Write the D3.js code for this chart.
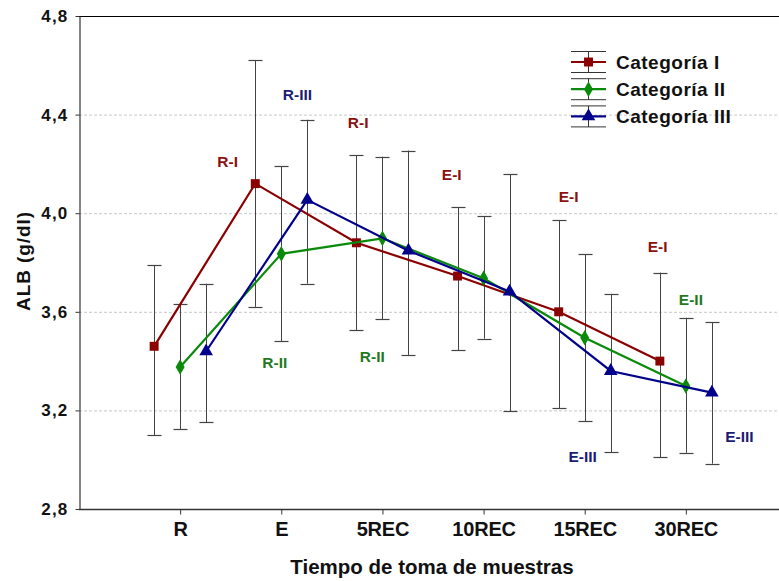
<!DOCTYPE html>
<html>
<head>
<meta charset="utf-8">
<script src="https://cdn.jsdelivr.net/npm/d3@7"></script>
<style>
  html, body { margin: 0; padding: 0; background: #fff; }
  svg text { font-family: "Liberation Sans", Arial, sans-serif; font-weight: bold; }
</style>
</head>
<body>
<div id="chart"></div>
<script>
(function(){
    // Data
    const categories = ["R", "E", "5REC", "10REC", "15REC", "30REC"];
    const seriesNames = ["Categoría I", "Categoría II", "Categoría III"];

    const meanI   = [3.46, 4.12, 3.88, 3.745, 3.60, 3.40];
    const lowerI  = [3.10, 3.62, 3.525, 3.445, 3.208, 3.01];
    const upperI  = [3.79, 4.62, 4.235, 4.025, 3.972, 3.759];

    const meanII  = [3.376, 3.835, 3.898, 3.736, 3.495, 3.299];
    const lowerII = [3.123, 3.48, 3.57, 3.491, 3.156, 3.028];
    const upperII = [3.63, 4.19, 4.229, 3.987, 3.834, 3.576];

    const meanIII  = [3.44, 4.054, 3.848, 3.682, 3.36, 3.272];
    const lowerIII = [3.152, 3.714, 3.425, 3.196, 3.031, 2.984];
    const upperIII = [3.714, 4.379, 4.254, 4.159, 3.673, 3.557];

    const yTickValues = [2.8, 3.2, 3.6, 4.0, 4.4, 4.8];

    // Annotation labels: position in category units and value units
    const annotations = [
        { text: "R-I",   series: 0, at: 0.47, value: 4.21 },
        { text: "R-III", series: 2, at: 1.16, value: 4.48 },
        { text: "R-I",   series: 0, at: 1.76, value: 4.366 },
        { text: "E-I",   series: 0, at: 2.685, value: 4.155 },
        { text: "E-I",   series: 0, at: 3.84, value: 4.067 },
        { text: "E-I",   series: 0, at: 4.72, value: 3.864 },
        { text: "E-II",  series: 1, at: 5.05, value: 3.648 },
        { text: "E-III", series: 2, at: 5.53, value: 3.096 },
        { text: "E-III", series: 2, at: 3.98, value: 3.011 },
        { text: "R-II",  series: 1, at: 0.936, value: 3.393 },
        { text: "R-II",  series: 1, at: 1.90, value: 3.418 }
    ];

    const series = [
        { name: seriesNames[0], mean: meanI, lower: lowerI, upper: upperI },
        { name: seriesNames[1], mean: meanII, lower: lowerII, upper: upperII },
        { name: seriesNames[2], mean: meanIII, lower: lowerIII, upper: upperIII }
    ];

    const colors = ["#8b0000", "#0a8a0a", "#00008b"];
    const labelColors = ["#8b1010", "#1f7a1f", "#1c1c72"];
    const offsets = [-26, 0, 26];
    const symbols = [d3.symbolSquare, d3.symbolDiamond, d3.symbolTriangle];
    const symbolSizes = [80, 70, 80];

    const W = 779, H = 581;
    const margin = { top: 16, left: 79, bottom: 72 };

    const svg = d3.select("#chart")
        .append("svg")
        .attr("width", W)
        .attr("height", H);

    const x = d3.scalePoint()
        .domain(categories)
        .range([margin.left, 787])
        .padding(1);

    const xIdx = d3.scaleLinear()
        .domain([0, categories.length - 1])
        .range([x(categories[0]), x(categories[categories.length - 1])]);

    const y = d3.scaleLinear()
        .domain([2.8, 4.8])
        .range([H - margin.bottom, margin.top]);

    // Grid lines
    svg.selectAll(".grid")
        .data(yTickValues.slice(1, -1))
        .enter()
        .append("line")
        .attr("x1", margin.left)
        .attr("x2", W)
        .attr("y1", d => y(d) + 0.5)
        .attr("y2", d => y(d) + 0.5)
        .attr("stroke", "#c8c8c8")
        .attr("stroke-dasharray", "3,2");

    // Top border
    svg.append("line")
        .attr("x1", margin.left)
        .attr("x2", W)
        .attr("y1", y(4.8) + 0.5)
        .attr("y2", y(4.8) + 0.5)
        .attr("stroke", "#000");

    // Axes
    const xAxis = svg.append("g")
        .attr("transform", `translate(0, ${y(2.8) + 0.5})`)
        .call(d3.axisBottom(x).tickSize(5).tickSizeOuter(0).tickPadding(7));
    xAxis.select(".domain").attr("stroke", "#333").attr("stroke-width", 1.5).attr("d", `M${margin.left},0H${W}`);
    xAxis.selectAll("line").attr("stroke", "#333");
    xAxis.selectAll("text")
        .style("font-size", "20px")
        .style("letter-spacing", "-0.2px")
        .attr("fill", "#111");

    const yAxis = svg.append("g")
        .attr("transform", `translate(${margin.left + 0.5}, 0)`)
        .call(d3.axisLeft(y).tickValues(yTickValues).tickSize(4).tickSizeOuter(0).tickPadding(7)
            .tickFormat(d => d3.format(".1f")(d).replace(".", ",")));
    yAxis.select(".domain").attr("stroke", "#333").attr("stroke-width", 1.2);
    yAxis.selectAll("line").attr("stroke", "#333");
    yAxis.selectAll("text")
        .style("font-size", "17px")
        .style("letter-spacing", "1.2px")
        .attr("fill", "#111");

    // Axis titles
    svg.append("text")
        .attr("x", 432)
        .attr("y", 574)
        .attr("text-anchor", "middle")
        .style("font-size", "20.5px")
        .attr("fill", "#111")
        .text("Tiempo de toma de muestras");

    svg.append("text")
        .attr("transform", `translate(30, 261) rotate(-90)`)
        .attr("text-anchor", "middle")
        .style("font-size", "19px")
        .style("letter-spacing", "0.9px")
        .attr("fill", "#111")
        .text("ALB (g/dl)");

    // Error bars
    series.forEach((s, si) => {
        const g = svg.append("g");
        categories.forEach((c, i) => {
            const cx = Math.round(x(c) + offsets[si]) + 0.5;
            g.append("line")
                .attr("x1", cx).attr("x2", cx)
                .attr("y1", y(s.lower[i])).attr("y2", y(s.upper[i]))
                .attr("stroke", "#444").attr("stroke-width", 1);
            [s.lower[i], s.upper[i]].forEach(v => {
                g.append("line")
                    .attr("x1", cx - 7).attr("x2", cx + 7)
                    .attr("y1", Math.round(y(v)) + 0.5).attr("y2", Math.round(y(v)) + 0.5)
                    .attr("stroke", "#444").attr("stroke-width", 1.2);
            });
        });
    });

    // Lines and markers
    series.forEach((s, si) => {
        const line = d3.line()
            .x((d, i) => x(categories[i]) + offsets[si])
            .y(d => y(d));
        svg.append("path")
            .datum(s.mean)
            .attr("fill", "none")
            .attr("stroke", colors[si])
            .attr("stroke-width", 2.2)
            .attr("d", line);
        svg.selectAll(`.pt${si}`)
            .data(s.mean)
            .enter()
            .append("path")
            .attr("transform", (d, i) => `translate(${x(categories[i]) + offsets[si]}, ${y(d)})`)
            .attr("d", d3.symbol().type(symbols[si]).size(symbolSizes[si]))
            .attr("fill", colors[si]);
    });

    // Annotations
    svg.selectAll(".annot")
        .data(annotations)
        .enter()
        .append("text")
        .attr("x", d => xIdx(d.at))
        .attr("y", d => y(d.value) + 5.5)
        .attr("text-anchor", "middle")
        .style("font-size", "15.5px")
        .attr("fill", d => labelColors[d.series])
        .text(d => d.text);

    // Legend
    const legend = svg.append("g").attr("transform", "translate(571, 62)");
    series.forEach((s, si) => {
        const row = legend.append("g").attr("transform", `translate(0, ${si * 27.2})`);
        row.append("line").attr("x1", 17.5).attr("x2", 17.5).attr("y1", -10.5).attr("y2", 10.5)
            .attr("stroke", "#333");
        [-10.5, 10.5].forEach(v => {
            row.append("line").attr("x1", 0).attr("x2", 35).attr("y1", v).attr("y2", v)
                .attr("stroke", "#333");
        });
        row.append("line").attr("x1", 0).attr("x2", 35).attr("y1", 0).attr("y2", 0)
            .attr("stroke", colors[si]).attr("stroke-width", 2.2);
        row.append("path")
            .attr("transform", "translate(17.5, 0)")
            .attr("d", d3.symbol().type(symbols[si]).size(symbolSizes[si]))
            .attr("fill", colors[si]);
        row.append("text")
            .attr("x", 45)
            .attr("y", 6.5)
            .style("font-size", "19px")
            .style("letter-spacing", "0.5px")
            .attr("fill", "#111")
            .text(s.name);
    });
})();
</script>
</body>
</html>
